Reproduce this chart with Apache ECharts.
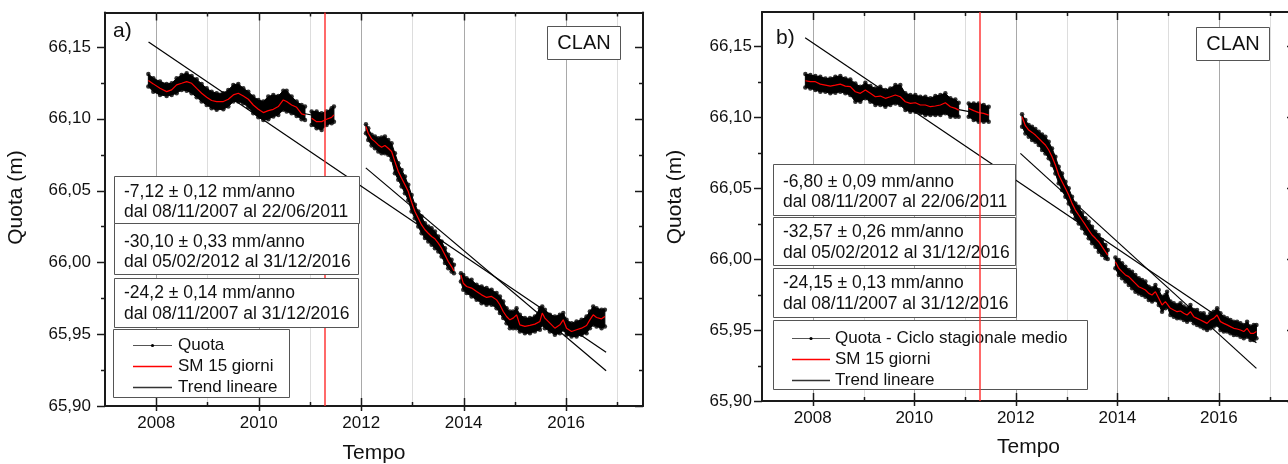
<!DOCTYPE html>
<html>
<head>
<meta charset="utf-8">
<script src="https://cdn.jsdelivr.net/npm/echarts@6/dist/echarts.min.js"></script>
<style>
  html, body { margin: 0; padding: 0; background: #ffffff; }
  #chart { width: 1288px; height: 464px; }
</style>
</head>
<body>
<div id="chart"></div>
<script>
// ---------------------------------------------------------------------------
// Data. Times are decimal years; heights (Quota) in metres.
// null marks a gap in the record.
// sm = 15-day moving average, hi / lo = upper / lower edge of the daily values.
// ---------------------------------------------------------------------------

// a) Quota
const tA = [2007.846, 2007.943, 2008.073, 2008.203, 2008.301, 2008.398, 2008.496, 2008.594, 2008.691, 2008.789, 2008.886, 2008.984, 2009.081, 2009.179, 2009.309, 2009.407, 2009.504, 2009.602, 2009.699, 2009.797, 2009.894, 2009.992, 2010.090, 2010.187, 2010.285, 2010.382, 2010.480, 2010.545, 2010.642, 2010.740, 2010.837, 2010.903,
  null, 2011.033, 2011.130, 2011.228, 2011.325, 2011.423, 2011.468,
  null, 2012.093, 2012.138, 2012.203, 2012.268, 2012.333, 2012.398, 2012.463, 2012.528, 2012.593, 2012.658, 2012.724, 2012.789, 2012.854, 2012.919, 2012.984, 2013.049, 2013.114, 2013.179, 2013.244, 2013.309, 2013.374, 2013.439, 2013.504, 2013.569, 2013.634, 2013.699, 2013.764, 2013.810,
  null, 2013.946, 2013.992, 2014.057, 2014.154, 2014.252, 2014.350, 2014.447, 2014.545, 2014.642, 2014.707, 2014.772, 2014.837, 2014.902, 2014.967, 2015.032, 2015.097, 2015.195, 2015.293, 2015.390, 2015.488, 2015.533, 2015.585, 2015.683, 2015.780, 2015.878, 2015.943, 2016.008, 2016.106, 2016.203, 2016.301, 2016.398, 2016.463, 2016.528, 2016.593, 2016.691, 2016.756];
const smA = [66.1266, 66.1243, 66.1212, 66.1189, 66.1201, 66.1236, 66.1247, 66.1259, 66.1247, 66.1212, 66.1178, 66.1150, 66.1127, 66.1120, 66.1120, 66.1136, 66.1166, 66.1178, 66.1159, 66.1136, 66.1096, 66.1066, 66.1043, 66.1057, 66.1066, 66.1085, 66.1131, 66.1120, 66.1096, 66.1080, 66.1034, 66.1027,
  null, 66.1003, 66.0980, 66.0980, 66.0997, 66.1010, 66.1027,
  null, 66.0946, 66.0899, 66.0860, 66.0841, 66.0818, 66.0802, 66.0814, 66.0795, 66.0772, 66.0702, 66.0633, 66.0586, 66.0540, 66.0493, 66.0419, 66.0354, 66.0308, 66.0261, 66.0227, 66.0203, 66.0180, 66.0164, 66.0134, 66.0099, 66.0053, 66.0006, 65.9971, 65.9941,
  null, 65.9913, 65.9855, 65.9832, 65.9821, 65.9797, 65.9774, 65.9756, 65.9763, 65.9739, 65.9705, 65.9658, 65.9623, 65.9600, 65.9612, 65.9635, 65.9565, 65.9554, 65.9561, 65.9570, 65.9589, 65.9647, 65.9612, 65.9577, 65.9542, 65.9565, 65.9600, 65.9542, 65.9519, 65.9531, 65.9542, 65.9561, 65.9600, 65.9635, 65.9616, 65.9607, 65.9623];
const hiA = [66.1312, 66.1282, 66.1259, 66.1243, 66.1247, 66.1282, 66.1305, 66.1317, 66.1298, 66.1275, 66.1243, 66.1212, 66.1189, 66.1178, 66.1178, 66.1201, 66.1236, 66.1243, 66.1212, 66.1189, 66.1155, 66.1131, 66.1120, 66.1155, 66.1166, 66.1159, 66.1196, 66.1196, 66.1155, 66.1120, 66.1096, 66.1085,
  null, 66.1050, 66.1050, 66.1038, 66.1050, 66.1073, 66.1085,
  null, 66.0962, 66.0934, 66.0888, 66.0876, 66.0865, 66.0869, 66.0876, 66.0853, 66.0830, 66.0760, 66.0691, 66.0644, 66.0598, 66.0540, 66.0470, 66.0401, 66.0354, 66.0319, 66.0273, 66.0250, 66.0238, 66.0215, 66.0180, 66.0145, 66.0099, 66.0053, 66.0018, 65.9983,
  null, 65.9925, 65.9913, 65.9890, 65.9879, 65.9844, 65.9832, 65.9821, 65.9809, 65.9786, 65.9763, 65.9728, 65.9681, 65.9658, 65.9658, 65.9681, 65.9635, 65.9612, 65.9612, 65.9623, 65.9681, 65.9693, 65.9670, 65.9635, 65.9623, 65.9635, 65.9647, 65.9600, 65.9577, 65.9589, 65.9600, 65.9623, 65.9658, 65.9693, 65.9681, 65.9670, 65.9670];
const loA = [66.1224, 66.1189, 66.1166, 66.1159, 66.1166, 66.1178, 66.1201, 66.1196, 66.1178, 66.1150, 66.1120, 66.1096, 66.1073, 66.1062, 66.1066, 66.1085, 66.1120, 66.1120, 66.1108, 66.1080, 66.1038, 66.1010, 66.0992, 66.0997, 66.1015, 66.1027, 66.1062, 66.1050, 66.1038, 66.1020, 66.0997, 66.0992,
  null, 66.0957, 66.0934, 66.0922, 66.0957, 66.0969, 66.0980,
  null, 66.0899, 66.0853, 66.0814, 66.0795, 66.0772, 66.0760, 66.0760, 66.0749, 66.0714, 66.0621, 66.0575, 66.0528, 66.0482, 66.0435, 66.0354, 66.0308, 66.0250, 66.0203, 66.0169, 66.0145, 66.0122, 66.0099, 66.0076, 66.0041, 65.9995, 65.9960, 65.9937, 65.9925,
  null, 65.9867, 65.9809, 65.9786, 65.9763, 65.9739, 65.9716, 65.9705, 65.9705, 65.9681, 65.9647, 65.9612, 65.9577, 65.9542, 65.9542, 65.9542, 65.9519, 65.9507, 65.9507, 65.9519, 65.9531, 65.9565, 65.9542, 65.9519, 65.9496, 65.9507, 65.9531, 65.9496, 65.9484, 65.9484, 65.9496, 65.9507, 65.9542, 65.9565, 65.9554, 65.9542, 65.9554];

// b) Quota minus mean seasonal cycle
const tB = [2007.854, 2007.952, 2008.051, 2008.149, 2008.248, 2008.346, 2008.445, 2008.543, 2008.642, 2008.740, 2008.839, 2008.937, 2009.036, 2009.134, 2009.233, 2009.331, 2009.430, 2009.528, 2009.627, 2009.725, 2009.824, 2009.922, 2010.021, 2010.119, 2010.218, 2010.317, 2010.415, 2010.514, 2010.612, 2010.711, 2010.809, 2010.875,
  null, 2011.072, 2011.170, 2011.269, 2011.367, 2011.466,
  null, 2012.123, 2012.189, 2012.254, 2012.320, 2012.386, 2012.451, 2012.517, 2012.583, 2012.648, 2012.714, 2012.780, 2012.845, 2012.911, 2012.977, 2013.042, 2013.108, 2013.174, 2013.239, 2013.305, 2013.371, 2013.436, 2013.502, 2013.568, 2013.633, 2013.699, 2013.765, 2013.811,
  null, 2013.962, 2014.028, 2014.093, 2014.159, 2014.225, 2014.290, 2014.356, 2014.422, 2014.487, 2014.553, 2014.619, 2014.684, 2014.750, 2014.816, 2014.881, 2014.947, 2014.980, 2015.046, 2015.111, 2015.177, 2015.243, 2015.308, 2015.374, 2015.440, 2015.505, 2015.571, 2015.637, 2015.702, 2015.768, 2015.834, 2015.899, 2015.965, 2016.031, 2016.096, 2016.162, 2016.228, 2016.294, 2016.359, 2016.425, 2016.491, 2016.556, 2016.622, 2016.688, 2016.740];
const smB = [66.1256, 66.1249, 66.1249, 66.1232, 66.1225, 66.1218, 66.1225, 66.1232, 66.1218, 66.1214, 66.1178, 66.1167, 66.1190, 66.1167, 66.1143, 66.1148, 66.1132, 66.1143, 66.1155, 66.1143, 66.1108, 66.1096, 66.1101, 66.1085, 66.1085, 66.1073, 66.1078, 66.1085, 66.1101, 66.1073, 66.1061, 66.1049,
  null, 66.1061, 66.1045, 66.1031, 66.1026, 66.1014,
  null, 66.1002, 66.0939, 66.0908, 66.0892, 66.0873, 66.0850, 66.0826, 66.0803, 66.0768, 66.0721, 66.0662, 66.0592, 66.0545, 66.0498, 66.0451, 66.0392, 66.0345, 66.0310, 66.0275, 66.0240, 66.0204, 66.0169, 66.0146, 66.0122, 66.0087, 66.0052, 66.0028,
  null, 65.9981, 65.9935, 65.9911, 65.9888, 65.9876, 65.9852, 65.9829, 65.9805, 65.9794, 65.9782, 65.9758, 65.9747, 65.9770, 65.9723, 65.9676, 65.9700, 65.9712, 65.9653, 65.9641, 65.9629, 65.9634, 65.9618, 65.9606, 65.9629, 65.9594, 65.9582, 65.9571, 65.9559, 65.9547, 65.9571, 65.9582, 65.9606, 65.9559, 65.9547, 65.9536, 65.9524, 65.9512, 65.9507, 65.9500, 65.9489, 65.9512, 65.9477, 65.9477, 65.9489];
const hiB = [66.1303, 66.1296, 66.1289, 66.1284, 66.1272, 66.1272, 66.1284, 66.1289, 66.1272, 66.1265, 66.1237, 66.1214, 66.1242, 66.1218, 66.1202, 66.1214, 66.1190, 66.1202, 66.1225, 66.1225, 66.1167, 66.1155, 66.1155, 66.1143, 66.1143, 66.1132, 66.1148, 66.1155, 66.1167, 66.1132, 66.1124, 66.1101,
  null, 66.1096, 66.1096, 66.1096, 66.1085, 66.1073,
  null, 66.1019, 66.0979, 66.0944, 66.0932, 66.0916, 66.0897, 66.0878, 66.0862, 66.0826, 66.0779, 66.0721, 66.0650, 66.0603, 66.0545, 66.0498, 66.0439, 66.0392, 66.0369, 66.0322, 66.0287, 66.0263, 66.0228, 66.0193, 66.0169, 66.0134, 66.0099, 66.0064,
  null, 66.0010, 65.9993, 65.9970, 65.9946, 65.9923, 65.9911, 65.9888, 65.9864, 65.9852, 65.9841, 65.9805, 65.9794, 65.9817, 65.9782, 65.9735, 65.9747, 65.9770, 65.9700, 65.9688, 65.9676, 65.9688, 65.9665, 65.9653, 65.9676, 65.9641, 65.9641, 65.9618, 65.9618, 65.9594, 65.9618, 65.9629, 65.9653, 65.9618, 65.9594, 65.9582, 65.9571, 65.9559, 65.9559, 65.9547, 65.9536, 65.9559, 65.9524, 65.9536, 65.9536];
const loB = [66.1209, 66.1202, 66.1190, 66.1178, 66.1178, 66.1167, 66.1171, 66.1178, 66.1167, 66.1155, 66.1108, 66.1108, 66.1132, 66.1108, 66.1085, 66.1085, 66.1073, 66.1085, 66.1096, 66.1085, 66.1049, 66.1038, 66.1038, 66.1026, 66.1014, 66.1014, 66.1014, 66.1014, 66.1026, 66.1002, 66.1002, 66.1002,
  null, 66.1002, 66.0979, 66.0967, 66.0967, 66.0967,
  null, 66.0932, 66.0885, 66.0862, 66.0838, 66.0826, 66.0803, 66.0768, 66.0744, 66.0709, 66.0662, 66.0603, 66.0533, 66.0486, 66.0439, 66.0392, 66.0334, 66.0287, 66.0251, 66.0216, 66.0181, 66.0146, 66.0111, 66.0087, 66.0052, 66.0028, 66.0005, 66.0000,
  null, 65.9935, 65.9888, 65.9864, 65.9841, 65.9817, 65.9794, 65.9770, 65.9758, 65.9747, 65.9735, 65.9712, 65.9700, 65.9712, 65.9676, 65.9629, 65.9653, 65.9665, 65.9606, 65.9594, 65.9582, 65.9582, 65.9571, 65.9559, 65.9571, 65.9547, 65.9536, 65.9524, 65.9512, 65.9500, 65.9512, 65.9524, 65.9536, 65.9500, 65.9489, 65.9489, 65.9477, 65.9465, 65.9465, 65.9453, 65.9442, 65.9453, 65.9430, 65.9430, 65.9442];

// Linear trends: [start year, start height, end year, end height]
const trendA = [[2007.85, 66.1253, 2011.47, 66.0995], [2012.09, 66.0658, 2016.78, 65.9246], [2007.85, 66.1535, 2016.78, 65.9374]];
const trendB = [[2007.85, 66.1258, 2011.47, 66.1012], [2012.09, 66.0744, 2016.74, 65.9230], [2007.85, 66.1558, 2016.74, 65.9411]];

// Fitted rates and periods
const ratesA = ['-7,12 \u00b1 0,12 mm/anno', '-30,10 \u00b1 0,33 mm/anno', '-24,2 \u00b1 0,14 mm/anno'];
const ratesB = ['-6,80 \u00b1 0,09 mm/anno', '-32,57 \u00b1 0,26 mm/anno', '-24,15 \u00b1 0,13 mm/anno'];
const periods = ['dal 08/11/2007 al 22/06/2011', 'dal 05/02/2012 al 31/12/2016', 'dal 08/11/2007 al 31/12/2016'];

// Legend entries
const legendA = ['Quota', 'SM 15 giorni', 'Trend lineare'];
const legendB = ['Quota - Ciclo stagionale medio', 'SM 15 giorni', 'Trend lineare'];

const eventYear = 2011.28;   // red vertical marker
const station = 'CLAN';
const xTitle = 'Tempo';
const yTitle = 'Quota (m)';

// Axis ranges
const X_MIN = 2007, X_MAX = 2017.5, X_STEP = 1;
const Y_MIN = 65.90, Y_MAX = 66.174, Y_STEP = 0.05;

// ---------------------------------------------------------------------------
// Layout (pixels)
// ---------------------------------------------------------------------------
const FONT = '"Liberation Sans", Arial, Helvetica, sans-serif';
const INK = '#111111';
const FRAME = '#1a1a1a';
const BOX_FONT = 17.5;

const panels = [
  {
    letter: 'a)', t: tA, sm: smA, hi: hiA, lo: loA, trend: trendA, rates: ratesA, legend: legendA,
    grid: { left: 105, top: 12.5, width: 538, height: 393.5 },
    yLabelMargin: 14, xLabelMargin: 9, xNameGap: 37,
    yTitlePos: [16, 197.5],
    letterPos: [113, 31.5],
    stationBox: [547.5, 26.5, 73, 33],
    fitBoxes: [[114.5, 176.5, 245, 47], [114.5, 223.5, 244, 51], [114.5, 278.5, 244, 49]],
    fitRows: [[192, 212], [242, 262], [293, 314]],
    textX: 124,
    legendBox: [113.5, 329.5, 176, 68], legendRows: [345, 366, 387], legendLine: [133, 172], legendTextX: 178,
    eventAboveBoxes: false
  },
  {
    letter: 'b)', t: tB, sm: smB, hi: hiB, lo: loB, trend: trendB, rates: ratesB, legend: legendB,
    grid: { left: 762, top: 12, width: 533, height: 389 },
    yLabelMargin: 10, xLabelMargin: 9, xNameGap: 36,
    yTitlePos: [675, 197],
    letterPos: [776, 38.5],
    stationBox: [1196.5, 27.5, 73, 33],
    fitBoxes: [[773.5, 164.5, 242, 51], [773.5, 217.5, 242, 48], [773.5, 268.5, 243, 49]],
    fitRows: [[182, 202], [232, 253], [283, 304]],
    textX: 783,
    legendBox: [773.5, 320.5, 314, 69], legendRows: [338, 359, 380], legendLine: [792, 830], legendTextX: 835,
    eventAboveBoxes: true
  }
];

// ---------------------------------------------------------------------------
// Helpers
// ---------------------------------------------------------------------------
function segmentsOf(t) {
  const segs = [];
  let s = null;
  for (let i = 0; i <= t.length; i++) {
    if (i === t.length || t[i] === null) {
      if (s !== null) segs.push([s, i]);
      s = null;
    } else if (s === null) {
      s = i;
    }
  }
  return segs;
}

function isMultiple(v, base, step) {
  const k = (v - base) / step;
  return Math.abs(k - Math.round(k)) < 1e-6;
}

const grids = [], xAxes = [], yAxes = [], series = [], graphics = [];

panels.forEach((p, gi) => {
  // fixed plot rectangles: no automatic shrinking to fit labels
  grids.push(Object.assign({ containLabel: false, outerBoundsMode: 'none' }, p.grid));
  const xi = xAxes.length, yi = yAxes.length;
  const axisLine = () => ({ show: true, onZero: false, lineStyle: { color: FRAME, width: 2 } });

  xAxes.push({
    type: 'value', gridIndex: gi, position: 'bottom', min: X_MIN, max: X_MAX, interval: X_STEP,
    axisLine: axisLine(), axisTick: { show: false }, splitLine: { show: false },
    axisLabel: {
      fontSize: 17, fontFamily: FONT, color: INK, margin: p.xLabelMargin,
      formatter: v => (isMultiple(v, 2000, 2) ? String(Math.round(v)) : '')
    },
    name: xTitle, nameLocation: 'middle', nameGap: p.xNameGap,
    nameTextStyle: { fontSize: 21, fontFamily: FONT, color: INK }
  });
  xAxes.push({
    type: 'value', gridIndex: gi, position: 'top', min: X_MIN, max: X_MAX, interval: X_STEP,
    axisLine: axisLine(), axisTick: { show: false }, axisLabel: { show: false }, splitLine: { show: false }
  });
  yAxes.push({
    type: 'value', gridIndex: gi, position: 'left', min: Y_MIN, max: Y_MAX, interval: Y_STEP,
    axisLine: axisLine(), axisTick: { show: false }, splitLine: { show: false },
    axisLabel: {
      fontSize: 17, fontFamily: FONT, color: INK, margin: p.yLabelMargin,
      formatter: v => (isMultiple(v, Y_MIN, Y_STEP) ? v.toFixed(2).replace('.', ',') : '')
    }
  });
  yAxes.push({
    type: 'value', gridIndex: gi, position: 'right', min: Y_MIN, max: Y_MAX, interval: Y_STEP,
    axisLine: axisLine(), axisTick: { show: false }, axisLabel: { show: false }, splitLine: { show: false }
  });

  const anchor = [[X_MIN, Y_MIN]];

  // vertical year grid: darker on labelled (even) years
  series.push({
    type: 'custom', xAxisIndex: xi, yAxisIndex: yi, z: 1, silent: true, clip: false, data: anchor,
    renderItem: (params, api) => {
      const yb = api.coord([X_MIN, Y_MIN])[1], yt = api.coord([X_MIN, Y_MAX])[1];
      const children = [];
      for (let yr = X_MIN + 1; yr <= X_MAX; yr++) {
        const px = Math.round(api.coord([yr, Y_MIN])[0]) + 0.5;
        children.push({
          type: 'line', shape: { x1: px, y1: yb, x2: px, y2: yt },
          style: { stroke: yr % 2 === 0 ? '#a9a9a9' : '#dddddd', lineWidth: 1 }
        });
      }
      return { type: 'group', children };
    }
  });

  // linear trends
  p.trend.forEach(tr => {
    series.push({
      type: 'line', xAxisIndex: xi, yAxisIndex: yi, z: 2, silent: true, symbol: 'none',
      data: [[tr[0], tr[1]], [tr[2], tr[3]]],
      lineStyle: { color: '#000000', width: 1.2 }
    });
  });

  // daily values: filled envelope
  const segs = segmentsOf(p.t);
  series.push({
    type: 'custom', xAxisIndex: xi, yAxisIndex: yi, z: 3, silent: true, data: anchor,
    renderItem: (params, api) => {
      const children = segs.map(([s, e]) => {
        const pts = [];
        for (let i = s; i < e; i++) pts.push(api.coord([p.t[i], p.hi[i]]));
        for (let i = e - 1; i >= s; i--) pts.push(api.coord([p.t[i], p.lo[i]]));
        return {
          type: 'polygon', shape: { points: pts },
          style: { fill: '#000000', stroke: '#000000', lineWidth: 1, lineJoin: 'round' }
        };
      });
      return { type: 'group', children };
    }
  });

  // daily values: dots along the edges of the cloud
  const edgeDots = [];
  p.t.forEach((x, i) => {
    if (x === null) return;
    edgeDots.push([x, p.hi[i]], [x, p.lo[i]]);
  });
  series.push({
    type: 'scatter', xAxisIndex: xi, yAxisIndex: yi, z: 3, silent: true,
    symbol: 'circle', symbolSize: 4.5, data: edgeDots,
    itemStyle: { color: '#000000' }
  });

  // 15-day moving average
  segs.forEach(([s, e]) => {
    const d = [];
    for (let i = s; i < e; i++) d.push([p.t[i], p.sm[i]]);
    series.push({
      type: 'line', xAxisIndex: xi, yAxisIndex: yi, z: 5, silent: true, symbol: 'none',
      data: d, lineStyle: { color: '#ff0000', width: 1.2 }
    });
  });

  // event marker
  const evZ = p.eventAboveBoxes ? 80 : 4;
  series.push({
    type: 'line', xAxisIndex: xi, yAxisIndex: yi, z: evZ, silent: true, symbol: 'none',
    data: [],
    markLine: {
      silent: true, symbol: ['none', 'none'], z: evZ, animation: false,
      label: { show: false },
      lineStyle: { color: '#ff3030', width: 1.6, type: 'solid', opacity: 0.9 },
      emphasis: { disabled: true },
      data: [{ xAxis: eventYear }]
    }
  });

  // frame ticks
  series.push({
    type: 'custom', xAxisIndex: xi, yAxisIndex: yi, z: 90, silent: true, clip: false, data: anchor,
    renderItem: (params, api) => {
      const [x0, yb] = api.coord([X_MIN, Y_MIN]);
      const [x1, yt] = api.coord([X_MAX, Y_MAX]);
      const children = [];
      const seg = (a, b, c, d) => children.push({
        type: 'line', shape: { x1: a, y1: b, x2: c, y2: d }, style: { stroke: FRAME, lineWidth: 1.5 }
      });
      for (let yr = X_MIN + 1; yr <= X_MAX; yr++) {
        const px = Math.round(api.coord([yr, Y_MIN])[0]) + 0.5;
        const major = yr % 2 === 0;
        seg(px, yb - (major ? 8 : 4), px, yb + (major ? 5 : 0));
        seg(px, yt, px, yt + (major ? 8 : 4));
      }
      for (let k = 0; Y_MIN + k * Y_STEP / 2 <= Y_MAX + 1e-9; k++) {
        const py = Math.round(api.coord([X_MIN, Y_MIN + k * Y_STEP / 2])[1]) + 0.5;
        const len = k % 2 === 0 ? 8 : 4;
        seg(x0 - len, py, x0, py);
        seg(x1 - len, py, x1, py);
      }
      return { type: 'group', children };
    }
  });

  // ---- annotations -------------------------------------------------------
  const txt = (x, y, text, size) => ({
    type: 'text', x, y, z: 60, silent: true,
    style: { text, font: size + 'px ' + FONT, fill: INK, align: 'left', verticalAlign: 'middle' }
  });
  const box = b => ({
    type: 'rect', z: 50, silent: true,
    shape: { x: b[0], y: b[1], width: b[2], height: b[3] },
    style: { fill: '#ffffff', stroke: '#555555', lineWidth: 1 }
  });

  // y title
  graphics.push({
    type: 'text', x: p.yTitlePos[0], y: p.yTitlePos[1], z: 60, silent: true, rotation: Math.PI / 2,
    style: { text: yTitle, font: '21px ' + FONT, fill: INK, align: 'center', verticalAlign: 'middle' }
  });
  // panel letter
  graphics.push(txt(p.letterPos[0], p.letterPos[1], p.letter, 21));
  // station label
  graphics.push(box(p.stationBox));
  graphics.push({
    type: 'text', z: 60, silent: true,
    x: p.stationBox[0] + p.stationBox[2] / 2, y: p.stationBox[1] + p.stationBox[3] / 2,
    style: { text: station, font: '20px ' + FONT, fill: INK, align: 'center', verticalAlign: 'middle' }
  });
  // fit result boxes
  p.fitBoxes.forEach((b, i) => {
    graphics.push(box(b));
    graphics.push(txt(p.textX, p.fitRows[i][0], p.rates[i], BOX_FONT));
    graphics.push(txt(p.textX, p.fitRows[i][1], periods[i], BOX_FONT));
  });
  // legend
  graphics.push(box(p.legendBox));
  const [lx0, lx1] = p.legendLine;
  const legendStroke = [['#555555', 1], ['#ff0000', 1.3], ['#333333', 1.3]];
  p.legend.forEach((name, i) => {
    const y = p.legendRows[i] + 0.5;
    graphics.push({
      type: 'line', z: 60, silent: true, shape: { x1: lx0, y1: y, x2: lx1, y2: y },
      style: { stroke: legendStroke[i][0], lineWidth: legendStroke[i][1] }
    });
    if (i === 0) {
      graphics.push({
        type: 'circle', z: 61, silent: true,
        shape: { cx: (lx0 + lx1) / 2, cy: y, r: 1.6 }, style: { fill: '#000000' }
      });
    }
    graphics.push(txt(p.legendTextX, p.legendRows[i], name, 17));
  });
});

const chart = echarts.init(document.getElementById('chart'), null, { renderer: 'canvas', width: 1288, height: 464 });
chart.setOption({
  animation: false,
  backgroundColor: '#ffffff',
  textStyle: { fontFamily: FONT },
  grid: grids,
  xAxis: xAxes,
  yAxis: yAxes,
  series,
  graphic: { elements: graphics }
});
</script>
</body>
</html>
